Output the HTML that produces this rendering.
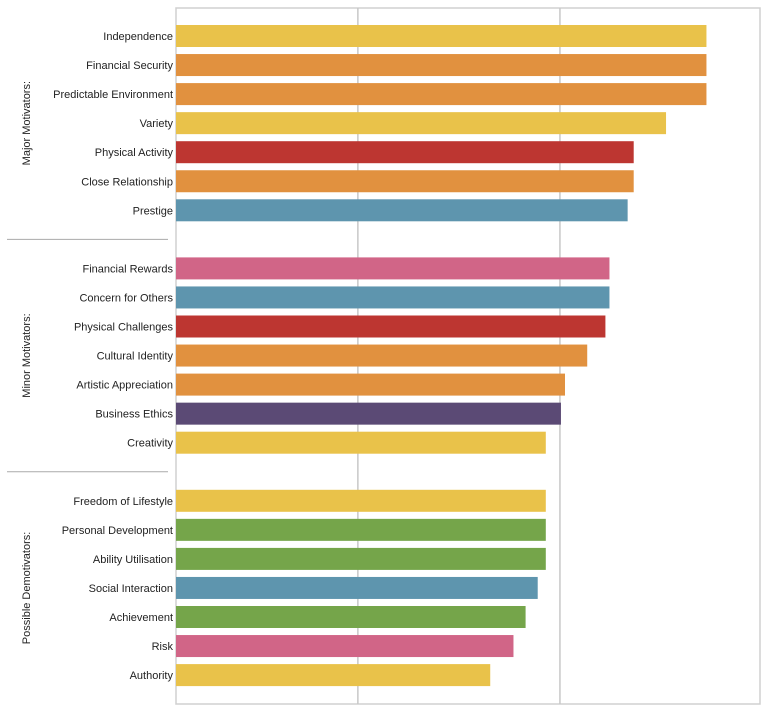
<!DOCTYPE html>
<html><head><meta charset="utf-8"><style>
body{margin:0;background:#fff;font-family:"Liberation Sans",Arial,sans-serif;}
svg text{font-family:"Liberation Sans",Arial,sans-serif;font-size:11px;fill:#222;}
</style></head><body>
<svg id="chart" width="768" height="709" xmlns="http://www.w3.org/2000/svg"></svg>
<script>
const categories=["Independence","Financial Security","Predictable Environment","Variety","Physical Activity","Close Relationship","Prestige","","Financial Rewards","Concern for Others","Physical Challenges","Cultural Identity","Artistic Appreciation","Business Ethics","Creativity","","Freedom of Lifestyle","Personal Development","Ability Utilisation","Social Interaction","Achievement","Risk","Authority"];
const values=[2.725,2.725,2.725,2.525,2.365,2.365,2.335,null,2.245,2.245,2.225,2.135,2.025,2.005,1.93,null,1.93,1.93,1.93,1.89,1.83,1.77,1.655];
const colorKeys=["y","o","o","y","r","o","b",null,"p","b","r","o","o","v","y",null,"y","g","g","b","g","p","y"];
const groups=["Major Motivators:","Minor Motivators:","Possible Demotivators:"];
const groupRanges=[[0,6],[8,14],[16,22]];
const gridTicks=[1,2];
const palette={y:"#E9C24A",o:"#E1913F",r:"#BD3631",b:"#5E95AE",p:"#D16587",v:"#5B4A75",g:"#75A54A"};
const NS="http://www.w3.org/2000/svg";
const svg=document.getElementById('chart');
const L=176,R=760,T=8,B=704,vmin=0.1,vmax=2.99;
const x=v=>L+(v-vmin)/(vmax-vmin)*(R-L);
const rowY=i=>36+29.05*i;
function mk(t,a){const e=document.createElementNS(NS,t);for(const k in a)e.setAttribute(k,a[k]);svg.appendChild(e);return e;}
let f=mk('rect',{x:L,y:T,width:R-L,height:B-T,fill:'none',stroke:'#d0d0d0','stroke-width':1.5});


gridTicks.forEach(t=>{const g=mk('line',{x1:x(t),x2:x(t),y1:T,y2:B,stroke:'#c8c8c8','stroke-width':1.5});

});
categories.forEach((c,i)=>{
 if(values[i]==null)return;
 const cy=rowY(i);
 const r=mk('rect',{x:L,y:cy-11,width:x(values[i])-L,height:22,fill:palette[colorKeys[i]]});
 
 
 const t=mk('text',{x:L-3,y:cy+4,'text-anchor':'end'});t.textContent=c;
 
 
});
groupRanges.forEach((g,k)=>{
 const cy=(rowY(g[0])+rowY(g[1]))/2;
 const t=mk('text',{x:0,y:0,'text-anchor':'middle',transform:`translate(30,${cy}) rotate(-90)`});t.textContent=groups[k];
 
 
 if(k>0){const ly=rowY(g[0]-1);const l=mk('line',{x1:7,x2:168,y1:ly,y2:ly,stroke:'#aaa','stroke-width':1});
 
 }
});
</script>
</body></html>
